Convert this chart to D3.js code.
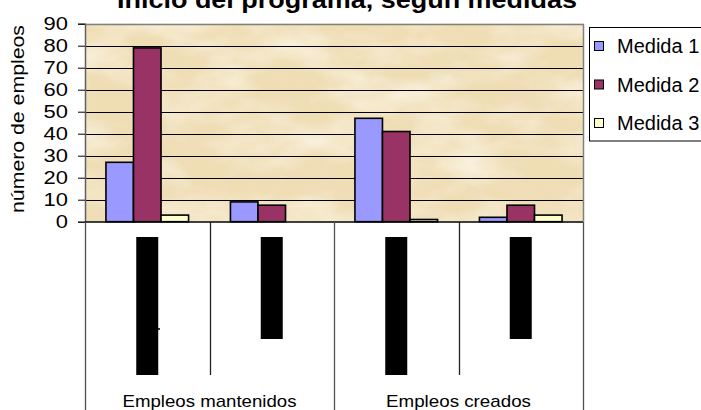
<!DOCTYPE html>
<html>
<head>
<meta charset="utf-8">
<script src="https://cdn.jsdelivr.net/npm/d3@7"></script>
<style>
  html, body { margin: 0; padding: 0; background: #ffffff; }
  svg { display: block; font-family: "Liberation Sans", Arial, sans-serif; }
</style>
</head>
<body>
<svg id="chart" width="701" height="410"></svg>
<script>
// ---- data ----
const title = "Inicio del programa, según medidas";
const yLabel = "número de empleos";
const categories = ["Empleos mantenidos", "Empleos creados"];
const subBands = ["a1", "a2", "b1", "b2"];          // two sub-groups per category
const seriesNames = ["Medida 1", "Medida 2", "Medida 3"];
const medida1 = [27, 9, 47, 2];
const medida2 = [79, 7.5, 41, 7.5];
const medida3 = [3, 0, 1, 3];
const yTicks = [0, 10, 20, 30, 40, 50, 60, 70, 80, 90];
const seriesColors = ["#9999FF", "#993366", "#FFFFCC"];

// ---- layout ----
const plot = { left: 85, right: 583, top: 23.7, bottom: 221.7 };
const svg = d3.select("#chart");

const x = d3.scaleBand().domain(subBands).range([plot.left, plot.right]).padding(0);
const xs = d3.scaleBand().domain(seriesNames).range([0, x.bandwidth()])
  .paddingInner(0).paddingOuter(0.76);
const y = d3.scaleLinear().domain([0, 90]).range([plot.bottom, plot.top]);

// ---- parchment background ----
const defs = svg.append("defs");
const fl = defs.append("filter").attr("id", "parchLight")
  .attr("x", 0).attr("y", 0).attr("width", "100%").attr("height", "100%");
fl.append("feTurbulence").attr("type", "fractalNoise")
  .attr("baseFrequency", "0.012 0.025").attr("numOctaves", 4).attr("seed", 7);
fl.append("feColorMatrix").attr("type", "matrix")
  .attr("values", "0 0 0 0 1  0 0 0 0 0.97  0 0 0 0 0.88  1.8 0 0 0 -0.72");
const fd = defs.append("filter").attr("id", "parchDark")
  .attr("x", 0).attr("y", 0).attr("width", "100%").attr("height", "100%");
fd.append("feTurbulence").attr("type", "fractalNoise")
  .attr("baseFrequency", "0.03 0.05").attr("numOctaves", 3).attr("seed", 21);
fd.append("feColorMatrix").attr("type", "matrix")
  .attr("values", "0 0 0 0 0.85  0 0 0 0 0.74  0 0 0 0 0.55  1.5 0 0 0 -0.62");

const pw = plot.right - plot.left, ph = plot.bottom - plot.top;
svg.append("rect").attr("x", plot.left).attr("y", plot.top)
  .attr("width", pw).attr("height", ph).attr("fill", "#EFDDB4");
svg.append("rect").attr("x", plot.left).attr("y", plot.top)
  .attr("width", pw).attr("height", ph).attr("fill", "#fff")
  .attr("filter", "url(#parchDark)").attr("opacity", 0.55);
svg.append("rect").attr("x", plot.left).attr("y", plot.top)
  .attr("width", pw).attr("height", ph).attr("fill", "#fff")
  .attr("filter", "url(#parchLight)").attr("opacity", 0.85);

// ---- gridlines ----
svg.append("g").selectAll("line")
  .data(yTicks.filter(t => t > 0 && t < 90))
  .join("line")
  .attr("x1", plot.left).attr("x2", plot.right)
  .attr("y1", d => Math.round(y(d)) + 0.5).attr("y2", d => Math.round(y(d)) + 0.5)
  .attr("stroke", "#000").attr("stroke-width", 1);

// plot border (top and right)
svg.append("path")
  .attr("d", `M${plot.left},${Math.round(plot.top) + 0.5}H${plot.right + 0.5}V${plot.bottom}`)
  .attr("fill", "none").attr("stroke", "#808080").attr("stroke-width", 1.5);

// ---- bars ----
const seriesValues = [medida1, medida2, medida3];
const barG = svg.append("g");
seriesNames.forEach((name, si) => {
  barG.append("g").selectAll("rect")
    .data(seriesValues[si].map((v, i) => ({ band: subBands[i], v })))
    .join("rect")
    .filter(d => d.v > 0)
    .attr("x", d => x(d.band) + xs(name))
    .attr("y", d => y(d.v))
    .attr("width", xs.bandwidth())
    .attr("height", d => y(0) - y(d.v))
    .attr("fill", seriesColors[si])
    .attr("stroke", "#000").attr("stroke-width", 1.6);
});

// ---- y axis ----
const yAxis = d3.axisLeft(y).tickValues(yTicks).tickSize(7).tickPadding(10)
  .tickFormat(d3.format("d"));
const yg = svg.append("g").attr("transform", `translate(${plot.left},0)`).call(yAxis);
yg.select(".domain").attr("stroke", "#606060").attr("stroke-width", 1.5);
yg.selectAll(".tick line").attr("stroke", "#000");
yg.selectAll(".tick text")
  .attr("font-size", 18).attr("fill", "#000")
  .attr("font-family", "Liberation Sans, Arial, sans-serif")
  .attr("textLength", d => String(d).length * 12.2)
  .attr("lengthAdjust", "spacingAndGlyphs");

// y axis title
svg.append("text")
  .attr("transform", "translate(24,119) rotate(-90)")
  .attr("text-anchor", "middle")
  .attr("font-size", 18)
  .attr("textLength", 188).attr("lengthAdjust", "spacingAndGlyphs")
  .text(yLabel);

// ---- category axis (two levels) ----
svg.append("line")
  .attr("x1", plot.left).attr("x2", plot.right)
  .attr("y1", 222).attr("y2", 222)
  .attr("stroke", "#000").attr("stroke-width", 1.5);

const sepG = svg.append("g");
subBands.forEach((b, i) => {
  const xp = Math.round(x(b)) + 0.5;
  const long = i % 2 === 0;
  sepG.append("line")
    .attr("x1", xp).attr("x2", xp)
    .attr("y1", 222).attr("y2", long ? 410 : 375)
    .attr("stroke", long ? "#505050" : "#222").attr("stroke-width", 1.3);
});
sepG.append("line")
  .attr("x1", plot.right + 0.5).attr("x2", plot.right + 0.5)
  .attr("y1", 222).attr("y2", 410)
  .attr("stroke", "#505050").attr("stroke-width", 1.3);

// sub-group labels, shown as filled blocks
subBands.forEach((b, i) => {
  const cx = x(b) + x.bandwidth() / 2;
  const h = i % 2 === 0 ? 138 : 102;
  svg.append("rect")
    .attr("x", cx - 11).attr("y", 237)
    .attr("width", 22).attr("height", h)
    .attr("fill", "#000");
  if (i === 0) {
    svg.append("rect").attr("x", cx + 11).attr("y", 328)
      .attr("width", 1.5).attr("height", 2).attr("fill", "#000");
  }
});

// category labels
const catWidths = [174, 145];
categories.forEach((c, ci) => {
  const x0 = x(subBands[ci * 2]);
  const x1 = x(subBands[ci * 2 + 1]) + x.bandwidth();
  svg.append("text")
    .attr("x", (x0 + x1) / 2).attr("y", 406.5)
    .attr("text-anchor", "middle")
    .attr("font-size", 17)
    .attr("textLength", catWidths[ci]).attr("lengthAdjust", "spacingAndGlyphs")
    .text(c);
});

// ---- title ----
svg.append("text")
  .attr("x", 347).attr("y", 8)
  .attr("text-anchor", "middle")
  .attr("font-size", 24).attr("font-weight", "bold")
  .attr("textLength", 460).attr("lengthAdjust", "spacingAndGlyphs")
  .text(title);

// ---- legend ----
const lg = svg.append("g");
lg.append("rect")
  .attr("x", 589.5).attr("y", 27.5)
  .attr("width", 130).attr("height", 113.5)
  .attr("fill", "#fff").attr("stroke", "#000").attr("stroke-width", 1);
const legendY = d3.scalePoint().domain(seriesNames).range([46, 123]);
seriesNames.forEach((name, i) => {
  lg.append("rect")
    .attr("x", 594.5).attr("y", legendY(name) - 4.5)
    .attr("width", 9).attr("height", 9)
    .attr("fill", seriesColors[i]).attr("stroke", "#000").attr("stroke-width", 1);
  lg.append("text")
    .attr("x", 617).attr("y", legendY(name))
    .attr("dy", "0.36em")
    .attr("font-size", 20)
    .text(name);
});
</script>
</body>
</html>
